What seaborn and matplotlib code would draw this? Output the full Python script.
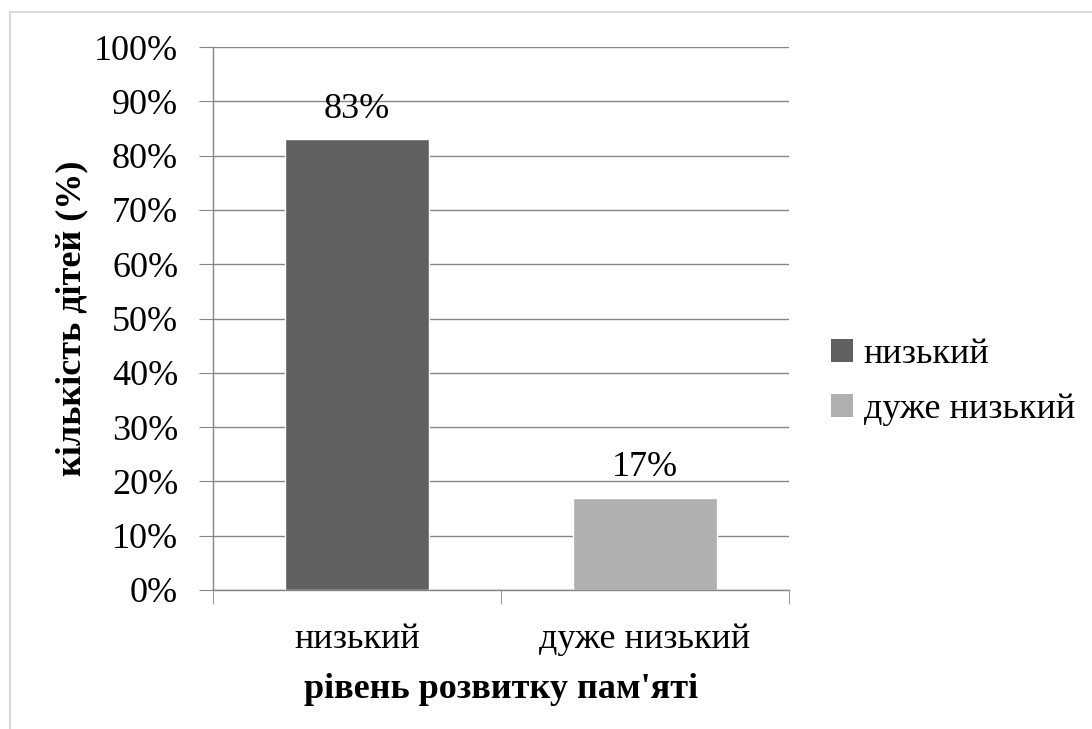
import matplotlib
matplotlib.use("Agg")
import matplotlib.pyplot as plt
import seaborn as sns
import pandas as pd
from matplotlib.patches import Rectangle, Patch
from matplotlib.ticker import FixedLocator, PercentFormatter

categories = ["низький", "дуже низький"]
values = [83, 17]
colors = ["#606060", "#b0b0b0"]
y_ticks = [0, 10, 20, 30, 40, 50, 60, 70, 80, 90, 100]

sns.set_style("white")
plt.rcParams["font.family"] = ["Liberation Serif", "DejaVu Serif"]
plt.rcParams["text.color"] = "black"
plt.rcParams["axes.labelcolor"] = "black"
plt.rcParams["xtick.color"] = "black"
plt.rcParams["ytick.color"] = "black"

df = pd.DataFrame({"level": categories, "share": values})

fig = plt.figure(figsize=(10.92, 7.29), dpi=100)
ax = fig.add_axes([0.195, 0.1907, 0.5275, 0.7448])

# light border around the chart area
fig.patches.append(Rectangle((10 / 1092, -0.1), 1.2, 0.1 + 1 - 12 / 729,
                             transform=fig.transFigure, fill=False,
                             edgecolor="#d9d9d9", linewidth=1.5))

sns.barplot(data=df, x="level", y="share", hue="level", palette=colors,
            width=0.5, dodge=False, legend=False, saturation=1, ax=ax)

ax.set_xlim(-0.5, 1.5)
ax.set_ylim(0, 100)
ax.yaxis.set_major_locator(FixedLocator(y_ticks))
ax.yaxis.set_major_formatter(PercentFormatter(decimals=0))
ax.grid(axis="y", color="#868686", linewidth=1)
ax.set_axisbelow(True)

for s in ["top", "right"]:
    ax.spines[s].set_visible(False)
for s in ["left", "bottom"]:
    ax.spines[s].set_color("#868686")
    ax.spines[s].set_linewidth(1)

ax.tick_params(axis="y", which="major", length=10, color="#868686",
               labelsize=26, pad=15, left=True)
ax.tick_params(axis="x", which="major", length=0, labelsize=26, pad=24)
ax.xaxis.set_minor_locator(FixedLocator([-0.5, 0.5, 1.5]))
ax.tick_params(axis="x", which="minor", length=10, color="#868686",
               bottom=True)

for i, v in enumerate(values):
    ax.text(i, v + 2.5, f"{v}%", ha="center", va="bottom", fontsize=26)

ax.set_xlabel("рівень розвитку пам'яті", fontsize=26, fontweight="bold",
              labelpad=12)
ax.set_ylabel("кількість дітей (%)", fontsize=26, fontweight="bold",
              labelpad=4)

handles = [Patch(facecolor=c, edgecolor="none") for c in colors]
fig.legend(handles, categories, loc="center left",
           bbox_to_anchor=(0.748, 0.476), frameon=False, fontsize=26,
           handlelength=0.6, handleheight=0.6, handletextpad=0.3,
           labelspacing=0.6, borderaxespad=0)

fig.savefig("out.png", dpi=100)
